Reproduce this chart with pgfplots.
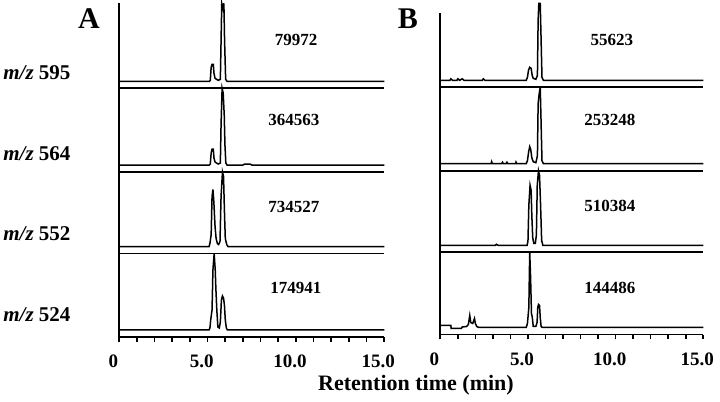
\documentclass[border=0pt]{standalone}
\usepackage{fontspec}
\setmainfont{Liberation Serif}
\usepackage{pgfplots}
\pgfplotsset{compat=1.18}

% 1 px of the reference = 0.5pt
\pgfplotsset{
  chrom/.style={
    scale only axis, anchor=south west,
    xmin=0, xmax=15, ymin=-7,
    axis x line*=bottom, axis y line*=left,
    axis line style={line width=0.9pt,-},
    xtick=\empty, ytick=\empty,
    clip=false,
  },
  bottomrow/.style={
    xtick={0,...,15},
    xticklabels={0,,,,,5.0,,,,,10.0,,,,,15.0},
    tick align=outside, major tick length=2.4pt,
    tick style={line width=0.8pt,black},
    xticklabel style={font=\bfseries\fontsize{9.5}{10}\selectfont,xshift=-3pt,yshift=-3pt},
  },
  trace/.style={black,line width=0.75pt,sharp plot,mark=none},
}

\begin{document}
\begin{tikzpicture}
\path[use as bounding box] (0,0) rectangle (360pt,-201pt);

% ---------- panel A ----------
\begin{axis}[chrom, at={(59.65pt,-44.15pt)}, width=132.5pt, height=42.5pt, ymax=78]
\addplot[trace] coordinates {(0,0) (5.1,0) (5.15,1) (5.2,14) (5.25,17) (5.32,17) (5.36,8) (5.42,3) (5.5,2) (5.6,1) (5.72,2) (5.76,40) (5.8,78) (5.84,75) (5.88,72) (5.92,78) (5.96,40) (6.02,2) (6.1,0) (15,0)};
\end{axis}
\begin{axis}[chrom, at={(59.65pt,-86pt)}, width=132.5pt, height=41.85pt, ymax=76.7]
\addplot[trace] coordinates {(0,0) (5.1,0) (5.15,1) (5.2,12) (5.25,16) (5.32,16) (5.36,7) (5.42,3) (5.5,2) (5.6,1) (5.72,2) (5.76,40) (5.82,76.7) (5.88,72) (5.94,50) (5.98,20) (6.03,2) (6.1,0) (7.0,0) (7.1,1) (7.4,1) (7.5,0) (15,0)};
\end{axis}
\begin{axis}[chrom, at={(59.65pt,-126.75pt)}, width=132.5pt, height=40.75pt, ymax=74.5]
\addplot[trace] coordinates {(0,0) (5.08,0) (5.13,3) (5.2,12) (5.25,50) (5.3,57) (5.35,45) (5.42,20) (5.48,8) (5.55,3) (5.62,2) (5.7,5) (5.76,50) (5.84,74.5) (5.9,70) (5.96,30) (6.0,8) (6.08,2) (6.15,0) (15,0)};
\end{axis}
\begin{axis}[chrom, bottomrow, at={(59.65pt,-168.5pt)}, width=132.5pt, height=41.75pt, ymax=76.5]
\addplot[trace] coordinates {(0,0) (5.08,0) (5.13,2) (5.18,11) (5.25,20) (5.3,60) (5.37,76.5) (5.43,60) (5.47,40) (5.52,20) (5.58,3) (5.66,2) (5.72,8) (5.78,30) (5.84,34) (5.9,32) (5.95,25) (6.0,10) (6.06,2) (6.12,0) (15,0)};
\end{axis}

% ---------- panel B ----------
\begin{axis}[chrom, at={(220.15pt,-43.65pt)}, width=131.5pt, height=37.3pt, ymax=67.6]
\addplot[trace] coordinates {(0,0) (0.55,0) (0.6,1.5) (0.7,0) (0.95,0) (1.0,1.5) (1.1,0) (1.25,1.5) (1.35,0) (2.4,0) (2.45,1.5) (2.55,0) (4.9,0) (4.97,3) (5.03,10) (5.1,13) (5.18,12) (5.24,5) (5.3,2) (5.45,1) (5.54,5) (5.58,60) (5.62,77) (5.7,77) (5.75,40) (5.8,3) (5.88,0) (15,0)};
\end{axis}
\begin{axis}[chrom, at={(220.15pt,-85.35pt)}, width=131.5pt, height=41.7pt, ymax=76.4]
\addplot[trace] coordinates {(0,0) (2.9,0) (2.93,2) (2.97,0) (3.5,0) (3.55,1.5) (3.6,0) (3.75,0) (3.8,1.5) (3.85,0) (4.3,0) (4.32,1.5) (4.36,0) (4.9,0) (4.97,3) (5.04,12) (5.1,17) (5.16,14) (5.22,6) (5.3,2) (5.45,1) (5.54,8) (5.58,60) (5.64,70) (5.7,76.4) (5.75,40) (5.8,3) (5.88,0) (15,0)};
\end{axis}
\begin{axis}[chrom, at={(220.15pt,-126.15pt)}, width=131.5pt, height=40.8pt, ymax=74.6]
\addplot[trace] coordinates {(0,0) (3.15,0) (3.2,1) (3.3,0) (4.95,0) (5.0,4) (5.05,40) (5.12,60) (5.18,55) (5.22,30) (5.27,8) (5.33,2) (5.42,2) (5.48,10) (5.53,60) (5.6,74.6) (5.66,70) (5.72,40) (5.78,5) (5.85,0) (15,0)};
\end{axis}
\begin{axis}[chrom, bottomrow, at={(220.15pt,-167.25pt)}, width=131.5pt, height=41.1pt, ymax=75.1]
\addplot[trace] coordinates {(0,2) (0.6,2) (0.62,-1) (1.2,-1) (1.25,0.5) (1.5,1) (1.6,3) (1.68,12) (1.74,5) (1.85,4) (1.95,9) (2.0,4) (2.08,1) (2.2,0) (4.9,0) (4.97,4) (5.05,20) (5.1,75.1) (5.15,50) (5.2,14) (5.25,10) (5.3,1) (5.45,1) (5.52,5) (5.56,20) (5.6,23) (5.66,22) (5.7,10) (5.75,1) (5.82,0) (15,0)};
\end{axis}

% ---------- labels ----------
\node[font=\bfseries\fontsize{15}{15}\selectfont] at (44.5pt,-9.5pt) {A};
\node[font=\bfseries\fontsize{15}{15}\selectfont] at (204pt,-9.5pt) {B};

\begin{scope}[every node/.style={anchor=west,inner sep=0pt,font=\bfseries\fontsize{10.5}{12}\selectfont}]
\node at (1.5pt,-36.25pt) {\textit{m/z} 595};
\node at (1.5pt,-77pt) {\textit{m/z} 564};
\node at (1.5pt,-117pt) {\textit{m/z} 552};
\node at (1.5pt,-157.5pt) {\textit{m/z} 524};
\end{scope}

\begin{scope}[every node/.style={inner sep=0pt,font=\bfseries\fontsize{8.5}{9}\selectfont}]
\node at (148pt,-20pt) {79972};
\node at (147pt,-60pt) {364563};
\node at (147pt,-103.35pt) {734527};
\node at (148pt,-144pt) {174941};
\node at (306pt,-20pt) {55623};
\node at (305pt,-60pt) {253248};
\node at (305pt,-103pt) {510384};
\node at (305pt,-144pt) {144486};
\end{scope}

\node[font=\bfseries\fontsize{11}{12}\selectfont] at (208pt,-192.5pt) {Retention time (min)};
\end{tikzpicture}
\end{document}
